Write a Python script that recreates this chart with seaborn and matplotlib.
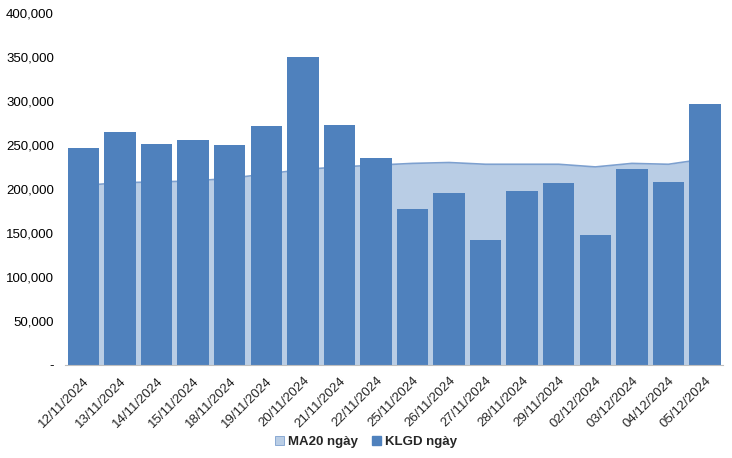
import matplotlib
matplotlib.use("Agg")
import matplotlib.pyplot as plt
import matplotlib.ticker as mticker
from matplotlib.patches import Patch
import seaborn as sns
import numpy as np
import pandas as pd

dates = ["12/11/2024", "13/11/2024", "14/11/2024", "15/11/2024", "18/11/2024",
         "19/11/2024", "20/11/2024", "21/11/2024", "22/11/2024", "25/11/2024",
         "26/11/2024", "27/11/2024", "28/11/2024", "29/11/2024", "02/12/2024",
         "03/12/2024", "04/12/2024", "05/12/2024"]
klgd = [247000, 265000, 251000, 256000, 250000, 271000, 350000, 273000, 235000,
        177000, 195000, 142000, 198000, 207000, 148000, 223000, 208000, 297000]
ma20 = [204000, 207000, 208000, 209000, 212000, 217000, 222000, 225000, 227000,
        229000, 230000, 228000, 228000, 228000, 225000, 229000, 228000, 234000]
y_ticks = [0, 50000, 100000, 150000, 200000, 250000, 300000, 350000, 400000]

bar_color = "#4F81BD"
area_color = "#B9CDE5"
line_color = "#7DA0CF"

sns.set_style("white")
plt.rcParams["font.family"] = ["Liberation Sans", "DejaVu Sans"]

df = pd.DataFrame({"date": dates, "klgd": klgd, "ma20": ma20})

fig = plt.figure(figsize=(7.32, 4.58), dpi=100)
ax = fig.add_axes([0.089, 0.203, 0.899, 0.769])

x = np.arange(len(dates))
ax.fill_between(x, 0, df["ma20"], color=area_color, zorder=1, linewidth=0)
ax.plot(x, df["ma20"], color=line_color, linewidth=1.2, zorder=1.5)

sns.barplot(data=df, x="date", y="klgd", color=bar_color, width=0.86,
            saturation=1, linewidth=0, edgecolor=bar_color, ax=ax, zorder=2)

ax.set_xlim(-0.5, len(dates) - 0.5)
ax.set_ylim(0, 400000)
ax.set_yticks(y_ticks)
ax.yaxis.set_major_formatter(mticker.FuncFormatter(
    lambda v, p: "-" if v == 0 else f"{int(v):,}"))
ax.tick_params(axis="y", length=0, labelsize=9.5, pad=8, colors="#000000")

ax.set_xticks(x)
ax.set_xticklabels(dates, rotation=45, ha="right", rotation_mode="anchor",
                   fontsize=9.5)
ax.tick_params(axis="x", which="major", length=0, pad=7)
ax.set_xticks(np.arange(-0.5, len(dates)), minor=True)
ax.tick_params(axis="x", which="minor", length=5, color="#BFBFBF", width=0.8)

ax.set_xlabel("")
ax.set_ylabel("")
for side in ["top", "right", "left"]:
    ax.spines[side].set_visible(False)
ax.spines["bottom"].set_color("#BFBFBF")
ax.spines["bottom"].set_linewidth(0.8)
ax.grid(False)

handles = [Patch(facecolor=area_color, edgecolor=line_color, linewidth=0.6, label="MA20 ngày"),
           Patch(facecolor=bar_color, edgecolor=bar_color, label="KLGD ngày")]
fig.legend(handles=handles, loc="center", bbox_to_anchor=(0.5, 0.035), ncol=2,
           frameon=False, handlelength=0.7, handleheight=0.7, handletextpad=0.3,
           columnspacing=1.0, prop={"size": 9.5, "weight": "bold"})

fig.savefig("out.png", dpi=100)
